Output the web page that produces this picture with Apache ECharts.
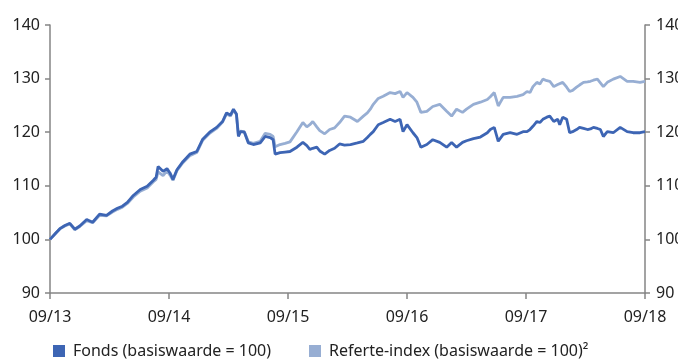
<!DOCTYPE html>
<html>
<head>
<meta charset="utf-8">
<script src="https://cdn.jsdelivr.net/npm/echarts@6/dist/echarts.min.js"></script>
<style>
  html, body { margin: 0; padding: 0; background: #ffffff; }
  #chart { width: 678px; height: 364px; }
</style>
</head>
<body>
<div id="chart"></div>
<script>
// Months elapsed since 09/2013 for each sample
const months = [
  0.0, 0.5, 1.0, 1.5, 2.0, 2.5, 3.0, 3.7, 4.3, 5.0, 5.7, 6.3, 6.8, 7.3, 7.8, 8.4, 9.1, 9.8,
  10.4, 10.7, 10.9, 11.4, 11.8, 12.1, 12.4, 12.8, 13.4, 14.1, 14.8, 15.4, 16.1, 16.8, 17.4,
  17.8, 18.2, 18.5, 18.8, 19.0, 19.2, 19.6, 20.0, 20.5, 21.2, 21.7, 22.2, 22.5, 22.7, 23.2,
  23.7, 24.2, 24.9, 25.5, 25.9, 26.2, 26.5, 26.9, 27.2, 27.7, 28.2, 28.7, 29.2, 29.7, 30.3,
  31.0, 31.6, 32.0, 32.3, 32.6, 33.1, 33.6, 34.3, 34.8, 35.3, 35.6, 36.0, 36.6, 37.0, 37.4,
  38.0, 38.6, 39.3, 40.0, 40.5, 41.0, 41.6, 42.0, 42.7, 43.4, 44.1, 44.4, 44.8, 45.2, 45.7,
  46.4, 47.1, 47.7, 48.1, 48.4, 48.7, 49.1, 49.4, 49.7, 50.1, 50.4, 50.8, 51.2, 51.4, 51.7,
  52.1, 52.4, 52.7, 53.1, 53.4, 53.8, 54.2, 54.5, 54.8, 55.2, 55.5, 55.8, 56.2, 56.8, 57.5,
  58.2, 58.8, 59.5, 60.0
];

// Fund, rebased to 100
const fonds = [
  100.0, 101.0, 102.0, 102.6, 103.0, 101.9, 102.5, 103.7, 103.2, 104.7, 104.5, 105.3, 105.8, 106.2, 106.9, 108.2, 109.3, 109.9,
  111.0, 111.6, 113.6, 112.7, 113.2, 112.4, 111.2, 113.0, 114.5, 115.9, 116.4, 118.7, 120.0, 120.9, 122.0,
  123.6, 123.2, 124.3, 123.4, 119.2, 120.1, 120.0, 118.0, 117.7, 118.0, 119.2, 119.0, 118.6, 115.9, 116.2,
  116.3, 116.4, 117.2, 118.1, 117.5, 116.8, 117.0, 117.2, 116.5, 115.9, 116.6, 117.0, 117.8, 117.6, 117.7,
  118.0, 118.3, 119.0, 119.6, 120.1, 121.4, 121.8, 122.4, 122.0, 122.4, 120.1, 121.4, 119.9, 119.0, 117.2,
  117.7, 118.6, 118.1, 117.2, 118.1, 117.2, 118.1, 118.4, 118.8, 119.1, 119.9, 120.5, 120.9, 118.3, 119.6,
  119.9, 119.6, 120.1, 120.1, 120.5, 121.1, 122.0, 121.8, 122.4, 122.8, 123.0, 122.0, 122.4, 121.4, 122.8,
  122.4, 119.9, 120.1, 120.5, 120.9, 120.7, 120.5, 120.6, 120.9, 120.7, 120.5, 119.2, 120.1, 119.9, 120.9,
  120.1, 119.9, 119.9, 120.1
];

// Reference index, rebased to 100
const referte = [
  100.0, 101.0, 102.0, 102.5, 102.9, 101.8, 102.4, 103.5, 103.1, 104.5, 104.4, 105.1, 105.6, 106.0, 106.7, 107.9, 109.0, 109.6,
  110.7, 111.2, 112.6, 111.9, 112.8, 112.0, 111.0, 112.8, 114.3, 115.6, 116.2, 118.5, 119.8, 120.7, 121.9,
  123.4, 123.0, 124.1, 123.3, 119.4, 120.2, 120.1, 118.2, 117.9, 118.3, 119.8, 119.6, 119.2, 117.3, 117.7,
  117.9, 118.2, 120.1, 121.8, 121.0, 121.4, 122.0, 121.0, 120.3, 119.7, 120.5, 120.8, 121.8, 123.0, 122.8,
  122.0, 123.0, 123.6, 124.3, 125.2, 126.3, 126.7, 127.4, 127.2, 127.6, 126.5, 127.4, 126.5, 125.6, 123.7,
  123.9, 124.8, 125.2, 123.9, 123.0, 124.3, 123.7, 124.3, 125.2, 125.6, 126.1, 126.6, 127.4, 124.9, 126.5,
  126.5, 126.7, 127.0, 127.6, 127.4, 128.5, 129.3, 129.0, 129.9, 129.6, 129.5, 128.5, 128.9, 128.8, 129.3,
  128.4, 127.6, 127.8, 128.4, 128.8, 129.3, 129.4, 129.5, 129.7, 129.9, 129.2, 128.5, 129.3, 129.9, 130.4,
  129.5, 129.5, 129.3, 129.5
];

const tickLabels = ['09/13', '09/14', '09/15', '09/16', '09/17', '09/18'];
const seriesNames = ['Fonds (basiswaarde = 100)', 'Referte-index (basiswaarde = 100)²'];

const FONT = '"Noto Sans", "Open Sans", sans-serif';
const AXIS_GREY = '#858585';
const TEXT = '#222222';

const pair = (vals) => months.map((m, i) => [m, vals[i]]);

const yAxisBase = {
  type: 'value',
  min: 90,
  max: 140,
  interval: 10,
  splitLine: { show: false },
  axisLine: { show: true, lineStyle: { color: AXIS_GREY, width: 1.5 } },
  axisTick: { show: true, length: 5, lineStyle: { color: AXIS_GREY, width: 1.5 } },
  axisLabel: { color: TEXT, fontFamily: FONT, fontSize: 16 }
};

const chart = echarts.init(document.getElementById('chart'), null, { renderer: 'canvas' });
chart.setOption({
  animation: false,
  backgroundColor: '#ffffff',
  grid: { left: 50, right: 33, top: 25, bottom: 71, containLabel: false, outerBoundsMode: 'none' },
  legend: {
    left: 48,
    bottom: 0,
    itemWidth: 12,
    itemHeight: 12,
    itemGap: 38,
    icon: 'rect',
    textStyle: { color: TEXT, fontFamily: FONT, fontSize: 16, padding: [0, 0, 0, 3] },
    data: seriesNames
  },
  xAxis: {
    type: 'value',
    min: 0,
    max: 60,
    interval: 12,
    splitLine: { show: false },
    axisLine: { show: true, lineStyle: { color: AXIS_GREY, width: 1.5 } },
    axisTick: { show: true, length: 6, lineStyle: { color: AXIS_GREY, width: 1.5 } },
    axisLabel: {
      color: TEXT, fontFamily: FONT, fontSize: 16, margin: 16,
      formatter: (v) => tickLabels[Math.round(v / 12)]
    }
  },
  yAxis: [
    Object.assign({}, yAxisBase, { position: 'left', axisLabel: Object.assign({}, yAxisBase.axisLabel, { margin: 10 }) }),
    Object.assign({}, yAxisBase, { position: 'right', axisLabel: Object.assign({}, yAxisBase.axisLabel, { margin: 11 }) })
  ],
  series: [
    {
      name: seriesNames[1],
      type: 'line',
      data: pair(referte),
      showSymbol: false,
      color: '#97aed3',
      lineStyle: { color: '#97aed3', width: 2.8 },
      z: 2
    },
    {
      name: seriesNames[0],
      type: 'line',
      data: pair(fonds),
      showSymbol: false,
      color: '#3d65b4',
      lineStyle: { color: '#3d65b4', width: 2.8 },
      z: 3
    }
  ]
});
</script>
</body>
</html>
